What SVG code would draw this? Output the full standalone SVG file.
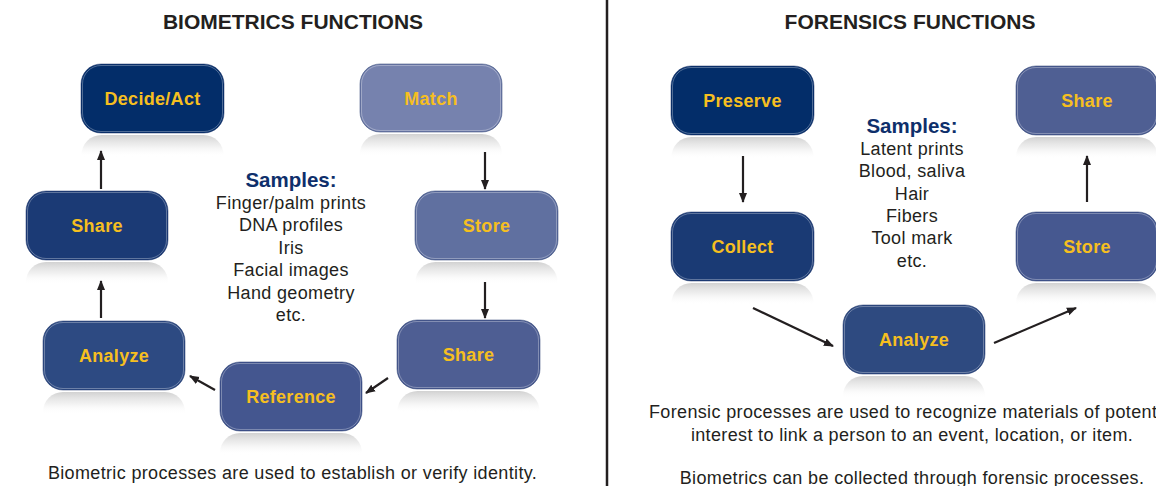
<svg xmlns="http://www.w3.org/2000/svg" width="1156" height="486" viewBox="0 0 1156 486">
<defs>
<linearGradient id="refl" x1="0" y1="0" x2="0" y2="1">
<stop offset="0" stop-color="#cfcfcf" stop-opacity="0.95"/>
<stop offset="0.5" stop-color="#e6e6e6" stop-opacity="0.6"/>
<stop offset="1" stop-color="#ffffff" stop-opacity="0"/>
</linearGradient>
<path id="rf" d="M0,20 A20,20 0 0 1 20,0 H122 A20,20 0 0 1 142,20 V22 H0 Z" fill="url(#refl)"/>
<marker id="ah" viewBox="0 0 10 10" refX="9" refY="5" markerWidth="10" markerHeight="10" markerUnits="userSpaceOnUse" orient="auto">
<path d="M0,1 L10,5 L0,9 z" fill="#231f20"/>
</marker>
<style>
.box{stroke:#243a6e;stroke-width:1;stroke-opacity:0.5}
.in{fill:none;stroke:#ffffff;stroke-opacity:0.3;stroke-width:1}
.lbl{font-family:"Liberation Sans",Arial,sans-serif;font-weight:bold;font-size:18px;letter-spacing:0.3px;fill:#f6bf1f;text-anchor:middle}
.title{font-family:"Liberation Sans",Arial,sans-serif;font-weight:bold;font-size:21px;fill:#231f20;text-anchor:middle}
.samp{font-family:"Liberation Sans",Arial,sans-serif;font-weight:bold;font-size:20.5px;fill:#0e2f6b;text-anchor:middle}
.txt{font-family:"Liberation Sans",Arial,sans-serif;font-size:18px;letter-spacing:0.35px;fill:#231f20;text-anchor:middle}
.arr{stroke:#231f20;stroke-width:2.2;fill:none;marker-end:url(#ah)}
</style>
</defs>
<rect width="1156" height="486" fill="#ffffff"/>
<line x1="607" y1="0" x2="607" y2="486" stroke="#231f20" stroke-width="2.5"/>
<text class="title" x="293" y="29">BIOMETRICS FUNCTIONS</text>
<text class="title" x="910" y="29">FORENSICS FUNCTIONS</text>

<g id="left-samples">
<text class="samp" x="291" y="187">Samples:</text>
<text class="txt" x="291" y="209">Finger/palm prints</text>
<text class="txt" x="291" y="231">DNA profiles</text>
<text class="txt" x="291" y="254">Iris</text>
<text class="txt" x="291" y="276">Facial images</text>
<text class="txt" x="291" y="299">Hand geometry</text>
<text class="txt" x="291" y="321">etc.</text>
</g>
<g id="right-samples">
<text class="samp" x="912" y="133">Samples:</text>
<text class="txt" x="912" y="155">Latent prints</text>
<text class="txt" x="912" y="177">Blood, saliva</text>
<text class="txt" x="912" y="200">Hair</text>
<text class="txt" x="912" y="222">Fibers</text>
<text class="txt" x="912" y="244">Tool mark</text>
<text class="txt" x="912" y="267">etc.</text>
</g>

<g id="n-decide">
<use href="#rf" x="81.5" y="135"/>
<rect class="box" x="81" y="64" width="143" height="69" rx="20" fill="#032d69"/>
<rect class="in" x="82.5" y="65.5" width="140" height="66" rx="18.5"/>
<text class="lbl" x="152.5" y="105">Decide/Act</text>
</g>
<g id="n-match">
<use href="#rf" x="360" y="134"/>
<rect class="box" x="360" y="64" width="142" height="68" rx="20" fill="#7682ae"/>
<rect class="in" x="361.5" y="65.5" width="139" height="65" rx="18.5"/>
<text class="lbl" x="431" y="105">Match</text>
</g>
<g id="n-share-l">
<use href="#rf" x="26" y="262"/>
<rect class="box" x="26" y="191" width="142" height="69" rx="20" fill="#1b3a75"/>
<rect class="in" x="27.5" y="192.5" width="139" height="66" rx="18.5"/>
<text class="lbl" x="97" y="232">Share</text>
</g>
<g id="n-store-l">
<use href="#rf" x="415.5" y="262"/>
<rect class="box" x="415" y="191" width="143" height="69" rx="20" fill="#6070a0"/>
<rect class="in" x="416.5" y="192.5" width="140" height="66" rx="18.5"/>
<text class="lbl" x="486.5" y="232">Store</text>
</g>
<g id="n-analyze-l">
<use href="#rf" x="43" y="392"/>
<rect class="box" x="43" y="321" width="142" height="69" rx="20" fill="#2d4a82"/>
<rect class="in" x="44.5" y="322.5" width="139" height="66" rx="18.5"/>
<text class="lbl" x="114" y="362">Analyze</text>
</g>
<g id="n-share-l2">
<use href="#rf" x="397.5" y="391"/>
<rect class="box" x="397" y="320" width="143" height="69" rx="20" fill="#4e5e93"/>
<rect class="in" x="398.5" y="321.5" width="140" height="66" rx="18.5"/>
<text class="lbl" x="468.5" y="361">Share</text>
</g>
<g id="n-reference">
<use href="#rf" x="220" y="433"/>
<rect class="box" x="220" y="362" width="142" height="69" rx="20" fill="#44568f"/>
<rect class="in" x="221.5" y="363.5" width="139" height="66" rx="18.5"/>
<text class="lbl" x="291" y="403">Reference</text>
</g>

<g id="n-preserve">
<use href="#rf" x="671.5" y="137"/>
<rect class="box" x="671" y="66" width="143" height="69" rx="20" fill="#032d69"/>
<rect class="in" x="672.5" y="67.5" width="140" height="66" rx="18.5"/>
<text class="lbl" x="742.5" y="107">Preserve</text>
</g>
<g id="n-share-r">
<use href="#rf" x="1016" y="137"/>
<rect class="box" x="1016" y="66" width="142" height="69" rx="20" fill="#4f5f93"/>
<rect class="in" x="1017.5" y="67.5" width="139" height="66" rx="18.5"/>
<text class="lbl" x="1087" y="107">Share</text>
</g>
<g id="n-collect">
<use href="#rf" x="671.5" y="283"/>
<rect class="box" x="671" y="212" width="143" height="69" rx="20" fill="#1a3a74"/>
<rect class="in" x="672.5" y="213.5" width="140" height="66" rx="18.5"/>
<text class="lbl" x="742.5" y="253">Collect</text>
</g>
<g id="n-store-r">
<use href="#rf" x="1016" y="283"/>
<rect class="box" x="1016" y="212" width="142" height="69" rx="20" fill="#465890"/>
<rect class="in" x="1017.5" y="213.5" width="139" height="66" rx="18.5"/>
<text class="lbl" x="1087" y="253">Store</text>
</g>
<g id="n-analyze-r">
<use href="#rf" x="843" y="376"/>
<rect class="box" x="843" y="305" width="142" height="69" rx="20" fill="#2e4a80"/>
<rect class="in" x="844.5" y="306.5" width="139" height="66" rx="18.5"/>
<text class="lbl" x="914" y="346">Analyze</text>
</g>

<g id="connectors">
<line class="arr" x1="101" y1="189" x2="101" y2="151"/>
<line class="arr" x1="485" y1="152" x2="485" y2="189"/>
<line class="arr" x1="485" y1="282" x2="485" y2="318"/>
<line class="arr" x1="101" y1="318" x2="101" y2="281"/>
<line class="arr" x1="388" y1="378" x2="366" y2="393"/>
<line class="arr" x1="215" y1="390" x2="190" y2="376"/>
<line class="arr" x1="743" y1="156" x2="743" y2="202"/>
<line class="arr" x1="1087" y1="202" x2="1087" y2="156"/>
<line class="arr" x1="753" y1="308" x2="833" y2="346"/>
<line class="arr" x1="994" y1="343" x2="1076" y2="308"/>
</g>

<text class="txt" x="292.5" y="479">Biometric processes are used to establish or verify identity.</text>
<text class="txt" x="649" y="418" style="text-anchor:start">Forensic processes are used to recognize materials of potent</text>
<text class="txt" x="912" y="441">interest to link a person to an event, location, or item.</text>
<text class="txt" x="912" y="484">Biometrics can be collected through forensic processes.</text>
</svg>
